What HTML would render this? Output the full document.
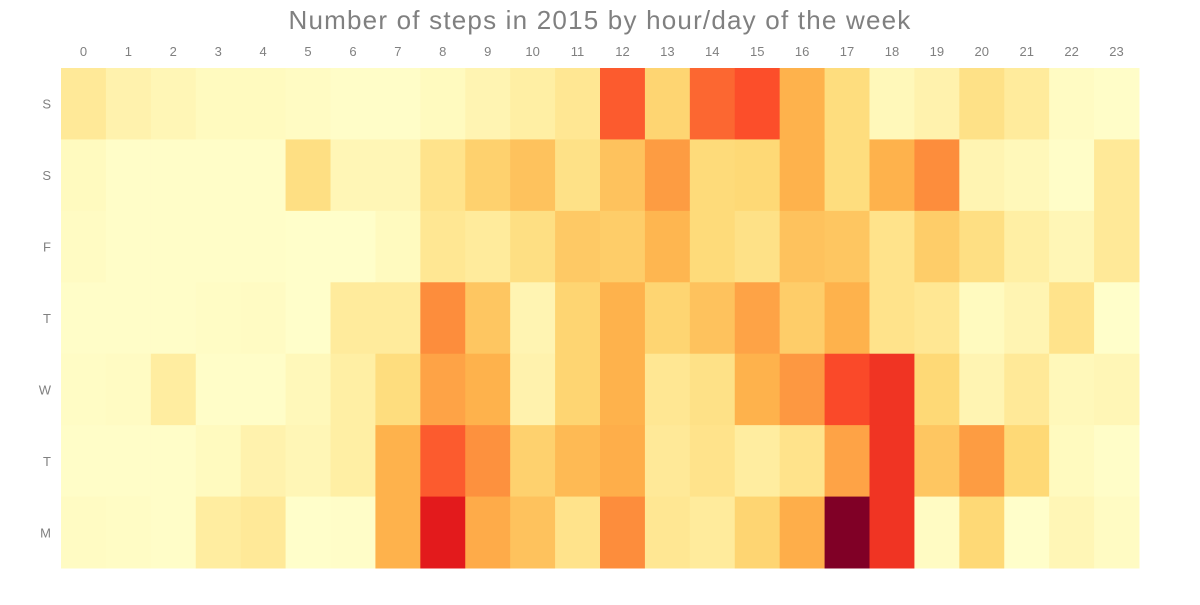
<!DOCTYPE html>
<html><head><meta charset="utf-8">
<style>
html,body{margin:0;padding:0;background:#fff;}
svg text{font-family:"Liberation Sans",sans-serif;fill:#808080;}
</style></head>
<body>
<svg id="chart" width="1200" height="600">
<text x="600" y="29" text-anchor="middle" font-size="26" letter-spacing="1.2">Number of steps in 2015 by hour/day of the week</text>
<g id="xlabels"></g>
<g id="ylabels"></g>
<g id="cells"></g>
</svg>
<script>
const hours = ["0","1","2","3","4","5","6","7","8","9","10","11","12","13","14","15","16","17","18","19","20","21","22","23"];
const days = ["S","S","F","T","W","T","M"];
const rowSun = [1.2,0.7,0.5,0.3,0.3,0.2,0.1,0.1,0.3,0.6,0.9,1.3,4.8,2.1,4.6,5.0,3.0,1.8,0.4,0.7,1.6,1.1,0.2,0.1];
const rowSat = [0.3,0.1,0.1,0.1,0.1,1.7,0.5,0.5,1.5,2.2,2.6,1.6,2.6,3.6,1.9,2.0,3.0,1.8,3.0,4.0,0.6,0.4,0.1,1.2];
const rowFri = [0.2,0.1,0.1,0.1,0.1,0.05,0.05,0.3,1.3,1.1,1.7,2.4,2.3,2.9,1.9,1.6,2.6,2.5,1.5,2.3,1.7,0.9,0.5,1.2];
const rowThu = [0.1,0.1,0.1,0.15,0.2,0.05,1.1,1.1,4.0,2.5,0.6,2.1,3.0,2.1,2.6,3.4,2.3,3.0,1.5,1.3,0.3,0.6,1.5,0.05];
const rowWed = [0.15,0.2,1.0,0.1,0.1,0.4,0.9,1.8,3.4,3.0,0.7,2.1,3.0,1.3,1.6,3.0,3.7,5.1,5.5,2.0,0.6,1.2,0.4,0.5];
const rowTue = [0.1,0.1,0.1,0.3,0.7,0.5,0.9,3.0,4.8,3.9,2.2,2.8,3.1,1.2,1.5,1.0,1.5,3.4,5.5,2.5,3.6,2.0,0.3,0.1];
const rowMon = [0.2,0.15,0.1,1.0,1.2,0.05,0.1,3.0,6.0,3.2,2.6,1.5,4.0,1.3,1.1,2.1,3.1,8.0,5.5,0.2,2.0,0.05,0.5,0.2];
const rows = [rowSun,rowSat,rowFri,rowThu,rowWed,rowTue,rowMon];

const NS="http://www.w3.org/2000/svg";
const x0=61,x1=1139,y0=68,y1=568;
const cw=(x1-x0)/hours.length, ch=(y1-y0)/days.length;
const xPos=i=>x0+i*cw, yPos=j=>y0+j*ch;
const stops=["#ffffcc","#ffeda0","#fed976","#feb24c","#fd8d3c","#fc4e2a","#e31a1c","#bd0026","#800026"];
function hex(h){return [1,3,5].map(k=>parseInt(h.substr(k,2),16));}
function color(v){
  v=Math.max(0,Math.min(8,v));const i=Math.min(7,Math.floor(v)),t=v-i;
  const a=hex(stops[i]),b=hex(stops[i+1]);
  return "rgb("+a.map((c,k)=>Math.round(c+(b[k]-c)*t)).join(",")+")";
}
const cells=document.getElementById("cells");
rows.forEach((row,j)=>row.forEach((v,i)=>{
  const r=document.createElementNS(NS,"rect");
  r.setAttribute("x",xPos(i));r.setAttribute("y",yPos(j));
  r.setAttribute("width",cw+0.5);r.setAttribute("height",ch+0.5);
  r.setAttribute("fill",color(v));
  
  
  cells.appendChild(r);
}));
const xl=document.getElementById("xlabels");
hours.forEach((h,i)=>{
  const t=document.createElementNS(NS,"text");
  t.setAttribute("x",xPos(i)+cw/2);t.setAttribute("y",56);
  t.setAttribute("text-anchor","middle");t.setAttribute("font-size","13");
  t.textContent=h;
  
  
  xl.appendChild(t);
});
const yl=document.getElementById("ylabels");
days.forEach((d,j)=>{
  const t=document.createElementNS(NS,"text");
  t.setAttribute("x",51);t.setAttribute("y",yPos(j)+ch/2+5);
  t.setAttribute("text-anchor","end");t.setAttribute("font-size","13");
  t.textContent=d;
  
  
  yl.appendChild(t);
});
</script>
</body></html>
